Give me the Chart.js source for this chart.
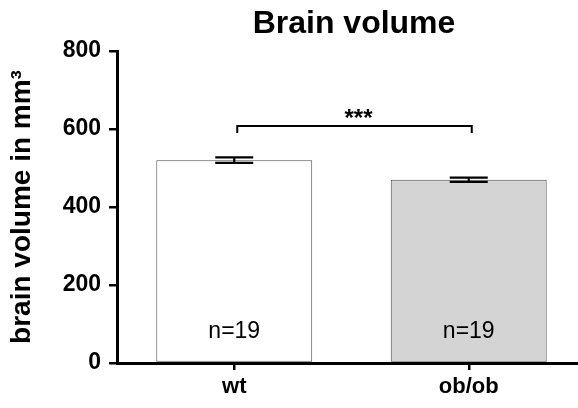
<!DOCTYPE html>
<html>
<head>
<meta charset="utf-8">
<script src="https://cdn.jsdelivr.net/npm/chart.js@4/dist/chart.umd.min.js"></script>
<style>
  html, body { margin: 0; padding: 0; background: #fff; overflow: hidden; }
  #wrap { width: 578px; height: 408px; overflow: hidden; }
</style>
</head>
<body>
<div id="wrap"><canvas id="chart" width="586" height="408"></canvas></div>
<script>
// data
var categories = ['wt', 'ob/ob'];
var meanVolume = [520, 470];
var semVolume = [7, 5.5];
var sampleSizes = [19, 19];
var yTickValues = [0, 200, 400, 600, 800];
var barColors = ['#ffffff', '#d4d4d4'];
var significance = '***';
var bracketLevel = 608;   // value where the significance bracket sits
var bracketDrop = 18;     // how far its ends come down (in data units)

var SANS = '"Liberation Sans", Arial, Helvetica, sans-serif';

// title, error bars, significance bracket and n labels
var annotations = {
    id: 'annotations',
    afterDatasetsDraw: function(chart) {
        var ctx = chart.ctx;
        var y = chart.scales.y;
        var bars = chart.getDatasetMeta(0).data;

        ctx.save();

        // title, centred over the plot
        ctx.fillStyle = '#000';
        ctx.font = 'bold 32px ' + SANS;
        ctx.textAlign = 'center';
        ctx.textBaseline = 'alphabetic';
        ctx.fillText('Brain volume', 354, 33);

        // error bars (mean +/- sem)
        ctx.strokeStyle = '#000';
        ctx.lineWidth = 2.2;
        for (var i = 0; i < bars.length; i++) {
            var cx = bars[i].x;
            var top = y.getPixelForValue(meanVolume[i] + semVolume[i]);
            var bot = y.getPixelForValue(meanVolume[i] - semVolume[i]);
            ctx.beginPath();
            ctx.moveTo(cx, top); ctx.lineTo(cx, bot);
            ctx.moveTo(cx - 19, top); ctx.lineTo(cx + 19, top);
            ctx.moveTo(cx - 19, bot); ctx.lineTo(cx + 19, bot);
            ctx.stroke();
        }

        // n labels inside the bars
        ctx.font = '23px ' + SANS;
        for (var j = 0; j < bars.length; j++) {
            ctx.fillText('n=' + sampleSizes[j], bars[j].x, 338);
        }

        // significance bracket
        var by = y.getPixelForValue(bracketLevel);
        var bEnd = y.getPixelForValue(bracketLevel - bracketDrop);
        var x1 = bars[0].x + 3, x2 = bars[1].x + 3;
        ctx.lineWidth = 2;
        ctx.beginPath();
        ctx.moveTo(x1, bEnd); ctx.lineTo(x1, by);
        ctx.lineTo(x2, by); ctx.lineTo(x2, bEnd);
        ctx.stroke();

        ctx.font = 'bold 24px ' + SANS;
        ctx.fillText(significance, (x1 + x2) / 2 + 4, 126);

        ctx.restore();
    }
};

var chart = new Chart(document.getElementById('chart'), {
    type: 'bar',
    data: {
        labels: categories,
        datasets: [{
            data: meanVolume,
            backgroundColor: barColors,
            borderColor: '#505050',
            borderWidth: 1,
            borderSkipped: false,
            categoryPercentage: 1,
            barPercentage: 0.665
        }]
    },
    options: {
        responsive: false,
        animation: false,
        devicePixelRatio: 1,
        layout: { padding: { top: 51, right: 0, bottom: 0, left: 0 } },
        plugins: {
            legend: { display: false },
            tooltip: { enabled: false }
        },
        scales: {
            x: {
                grid: {
                    offset: false,
                    drawOnChartArea: false,
                    drawTicks: true,
                    tickLength: 7,
                    color: '#000',
                    lineWidth: 2.5
                },
                border: { display: true, color: '#000', width: 3 },
                ticks: {
                    color: '#000',
                    padding: 4,
                    font: { family: SANS, size: 22, weight: 'bold' }
                },
                afterFit: function(scale) { scale.height = 45; }
            },
            y: {
                min: 0,
                max: 800,
                afterBuildTicks: function(scale) {
                    scale.ticks = yTickValues.map(function(v) { return { value: v }; });
                },
                grid: {
                    drawOnChartArea: false,
                    drawTicks: true,
                    tickLength: 8,
                    color: '#000',
                    lineWidth: 2.5
                },
                border: { display: true, color: '#000', width: 3 },
                ticks: {
                    color: '#000',
                    padding: 8,
                    font: { family: SANS, size: 23, weight: 'bold' }
                },
                title: {
                    display: true,
                    text: 'brain volume in mm\u00b3',
                    color: '#000',
                    padding: { top: 5, bottom: 0 },
                    font: { family: SANS, size: 28, weight: 'bold' }
                },
                afterFit: function(scale) { scale.width = 117; }
            }
        }
    },
    plugins: [annotations]
});
</script>
</body>
</html>
